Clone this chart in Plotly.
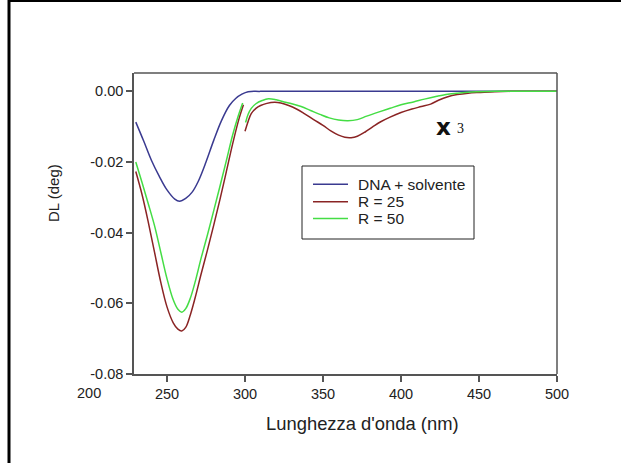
import plotly.graph_objects as go

# Wavelength grids (nm) and linear dichroism values (deg)
blue_wl = [230, 235, 240, 245, 250, 255, 258, 262, 266, 270, 275, 280, 285, 290,
           294, 298, 302, 310, 350, 400, 450, 500]
blue_dl = [-0.0087, -0.0140, -0.0195, -0.0240, -0.0279, -0.0305, -0.0311, -0.0303,
           -0.0286, -0.0255, -0.0200, -0.0138, -0.0082, -0.0040, -0.0020, -0.0008,
           -0.0001, 0.0, 0.0, 0.0, 0.0, 0.0]

# R = 25: UV band (230-299 nm) and the x3 expanded band (300-500 nm)
r25_wl_uv = [230, 234, 238, 242, 246, 250, 254, 257, 259.5, 262, 265, 268, 272, 276,
             280, 284, 288, 292, 296, 299]
r25_dl_uv = [-0.0227, -0.0292, -0.0370, -0.0455, -0.0540, -0.0610, -0.0655, -0.0673,
             -0.0678, -0.0668, -0.0632, -0.0585, -0.0515, -0.0448, -0.0378, -0.0305,
             -0.0228, -0.0150, -0.0080, -0.0038]
r25_wl_vis = [300, 302, 304, 307, 310, 314, 319, 323, 328, 333, 338, 344, 350, 355,
              360, 364, 368, 372, 377, 382, 387, 393, 400, 407, 413, 419, 424, 430,
              436, 443, 451, 460, 470, 485, 500]
r25_dl_vis = [-0.0113, -0.0085, -0.0063, -0.0048, -0.0040, -0.0034, -0.0031, -0.0033,
              -0.0040, -0.0050, -0.0063, -0.0080, -0.0096, -0.0112, -0.0124, -0.0130,
              -0.0131, -0.0127, -0.0115, -0.0100, -0.0086, -0.0073, -0.0060, -0.0050,
              -0.0043, -0.0036, -0.0025, -0.0015, -0.0009, -0.0005, -0.0003, -0.0001,
              0.0, 0.0, 0.0]

# R = 50
r50_wl_uv = [230, 234, 238, 242, 246, 250, 254, 257, 259.5, 262, 265, 268, 272, 276,
             280, 284, 288, 292, 295.5, 298.5]
r50_dl_uv = [-0.0200, -0.0258, -0.0318, -0.0380, -0.0455, -0.0530, -0.0590, -0.0617,
             -0.0625, -0.0615, -0.0585, -0.0540, -0.0470, -0.0405, -0.0337, -0.0268,
             -0.0197, -0.0125, -0.0072, -0.0033]
r50_wl_vis = [300.4, 302, 304, 307, 311, 315, 320, 325, 330, 336, 342, 348, 354, 360,
              366, 372, 378, 386, 393, 400, 408, 415, 423, 430, 436, 445, 460, 480, 500]
r50_dl_vis = [-0.0088, -0.0065, -0.0048, -0.0035, -0.0026, -0.0021, -0.0024, -0.0030,
              -0.0035, -0.0043, -0.0054, -0.0065, -0.0075, -0.0081, -0.0083, -0.0080,
              -0.0070, -0.0058, -0.0048, -0.0038, -0.0030, -0.0022, -0.0014, -0.0008,
              -0.0005, -0.0002, 0.0, 0.0, 0.0]

series_names = ["DNA + solvente", "R = 25", "R = 50"]
series_colors = ["#3a3a90", "#8a2424", "#44dd44"]

x_tick_vals = [250, 300, 350, 400, 450, 500]
x_tick_text = ["250", "300", "350", "400", "450", "500"]
x_extra_label = 200
y_tick_vals = [0.0, -0.02, -0.04, -0.06, -0.08]
y_tick_text = ["0.00", "-0.02", "-0.04", "-0.06", "-0.08"]

X_RANGE = [228.85, 500]
Y_RANGE = [-0.08, 0.0052]

fig = go.Figure()

fig.add_trace(go.Scatter(x=blue_wl, y=blue_dl, mode="lines", name=series_names[0],
                         line=dict(color=series_colors[0], width=1.5, shape="spline")))
fig.add_trace(go.Scatter(x=r25_wl_uv + [None] + r25_wl_vis,
                         y=r25_dl_uv + [None] + r25_dl_vis,
                         mode="lines", name=series_names[1], connectgaps=False,
                         line=dict(color=series_colors[1], width=1.5, shape="spline")))
fig.add_trace(go.Scatter(x=r50_wl_uv + [None] + r50_wl_vis,
                         y=r50_dl_uv + [None] + r50_dl_vis,
                         mode="lines", name=series_names[2], connectgaps=False,
                         line=dict(color=series_colors[2], width=1.5, shape="spline")))

axis_font = dict(family="Liberation Sans, Arial, sans-serif", size=14.5, color="#222222")

fig.update_xaxes(range=X_RANGE, tickvals=x_tick_vals, ticktext=x_tick_text,
                 ticks="outside", ticklen=6, tickwidth=1.5, tickcolor="#555555",
                 showline=True, linecolor="#555555", linewidth=1.5, mirror=False,
                 showgrid=False, zeroline=False, tickfont=axis_font)
fig.update_yaxes(range=Y_RANGE, tickvals=y_tick_vals, ticktext=y_tick_text,
                 ticks="outside", ticklen=6, tickwidth=1.5, tickcolor="#555555",
                 showline=True, linecolor="#555555", linewidth=1.5, mirror=False,
                 showgrid=False, zeroline=False, tickfont=axis_font)

W, H = 621, 463
L, R, T, B = 134, 64, 73, 89
pw, ph = W - L - R, H - T - B


def px_x(p):
    return (p - L) / pw


def px_y(p):
    return (H - B - p) / ph


shapes = [
    # plot box (top and right edges)
    dict(type="line", xref="paper", yref="paper", x0=0, x1=1, y0=1, y1=1,
         line=dict(color="#555555", width=1.5)),
    dict(type="line", xref="paper", yref="paper", x0=1, x1=1, y0=0, y1=1,
         line=dict(color="#555555", width=1.5)),
    # page frame
    dict(type="line", xref="paper", yref="paper", x0=px_x(9), x1=px_x(9),
         y0=px_y(0), y1=px_y(H), line=dict(color="black", width=3)),
    dict(type="line", xref="paper", yref="paper", x0=px_x(8), x1=px_x(W),
         y0=px_y(1), y1=px_y(1), line=dict(color="black", width=2)),
    # legend box
    dict(type="rect", xref="paper", yref="paper", x0=px_x(302), x1=px_x(474),
         y0=px_y(239), y1=px_y(166), fillcolor="white",
         line=dict(color="#222222", width=1)),
]

x_frac_200 = (x_extra_label - X_RANGE[0]) / (X_RANGE[1] - X_RANGE[0])

annotations = [
    dict(text="200", xref="x domain", yref="paper", x=x_frac_200, y=px_y(393),
         xanchor="center", yanchor="middle", showarrow=False, font=axis_font),
    dict(text="Lunghezza d'onda (nm)", xref="paper", yref="paper", x=px_x(362),
         y=px_y(423), xanchor="center", yanchor="middle", showarrow=False,
         font=dict(family="Liberation Sans, Arial, sans-serif", size=18.4, color="#222222")),
    dict(text="DL (deg)", xref="paper", yref="paper", x=px_x(53), y=px_y(193),
         xanchor="center", yanchor="middle", showarrow=False, textangle=-90,
         font=dict(family="Liberation Sans, Arial, sans-serif", size=15, color="#222222")),
    dict(text="<b>x</b>", xref="paper", yref="paper", x=px_x(443.5), y=px_y(127),
         xanchor="center", yanchor="middle", showarrow=False,
         font=dict(family="DejaVu Sans", size=23, color="#111111")),
    dict(text="3", xref="paper", yref="paper", x=px_x(460), y=px_y(128),
         xanchor="center", yanchor="middle", showarrow=False,
         font=dict(family="Liberation Serif, Times New Roman, serif", size=14, color="#111111")),
]

# legend entries: sample line + label for each series
legend_rows_px = [184.3, 201.7, 218.5]
for name, color, row in zip(series_names, series_colors, legend_rows_px):
    shapes.append(dict(type="line", xref="paper", yref="paper",
                       x0=px_x(313), x1=px_x(348), y0=px_y(row), y1=px_y(row),
                       line=dict(color=color, width=1.5)))
    annotations.append(dict(text=name, xref="paper", yref="paper", x=px_x(356),
                            y=px_y(row), xanchor="left", yanchor="middle",
                            showarrow=False,
                            font=dict(family="Liberation Sans, Arial, sans-serif",
                                      size=15.5, color="#222222")))

fig.update_layout(
    width=W, height=H,
    margin=dict(l=L, r=R, t=T, b=B),
    paper_bgcolor="white", plot_bgcolor="white",
    showlegend=False,
    shapes=shapes,
    annotations=annotations,
)

fig.write_html("out.html")
